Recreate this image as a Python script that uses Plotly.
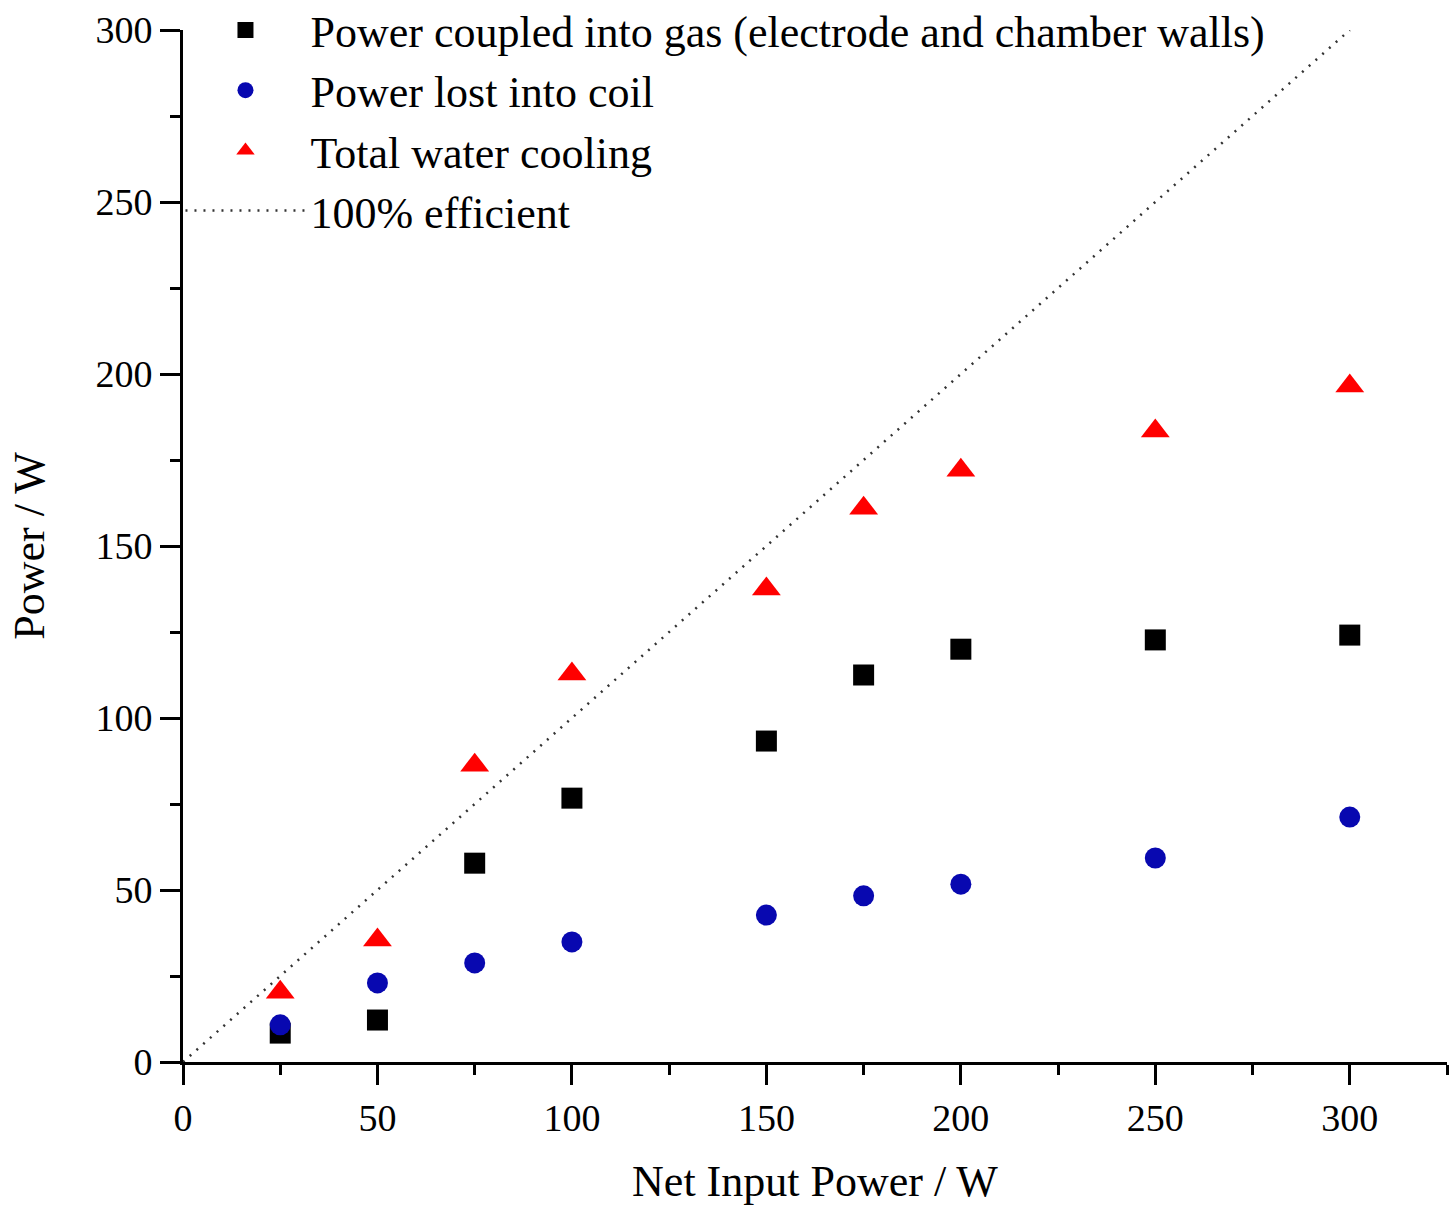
import plotly.graph_objects as go

x_vals = [25, 50, 75, 100, 150, 175, 200, 250, 300]
gas_power = [8.4, 12.2, 57.8, 76.7, 93.3, 112.5, 120.0, 122.7, 124.1]
coil_power = [10.8, 23.0, 28.8, 34.9, 42.7, 48.3, 51.7, 59.3, 71.2]
water_cooling = [20.3, 35.5, 86.3, 112.8, 137.5, 161.0, 172.0, 183.4, 196.5]
ideal_x = [0, 300]
ideal_y = [0, 300]

FONT = "Liberation Serif, Times New Roman, serif"

fig = go.Figure()
fig.add_trace(go.Scatter(x=x_vals, y=gas_power, mode="markers",
                         name="Power coupled into gas (electrode and chamber walls)",
                         marker=dict(symbol="square", size=21, color="black"), legendgroup="a"))
fig.add_trace(go.Scatter(x=x_vals, y=coil_power, mode="markers",
                         name="Power lost into coil",
                         marker=dict(symbol="circle", size=21, color="#0808b0"), legendgroup="b"))
fig.add_trace(go.Scatter(x=x_vals, y=water_cooling, mode="markers",
                         name="Total water cooling",
                         marker=dict(symbol="triangle-up", size=25, color="#ff0000"), legendgroup="c"))
fig.add_trace(go.Scatter(x=ideal_x, y=ideal_y, mode="lines",
                         name="100% efficient",
                         line=dict(color="#333", width=2.5, dash="2px,7px"), legendgroup="d"))

fig.update_layout(
    width=1453, height=1207,
    margin=dict(l=183, r=6, t=30, b=145, autoexpand=False),
    plot_bgcolor="white", paper_bgcolor="white",
    font=dict(family=FONT, size=38, color="black"),
    showlegend=True,
    legend=dict(x=-0.002, y=1.034, xanchor="left", yanchor="top",
                bgcolor="rgba(0,0,0,0)", font=dict(size=44, family=FONT),
                tracegroupgap=0, itemwidth=120),
    xaxis=dict(range=[0, 325], tickvals=[0, 50, 100, 150, 200, 250, 300],
               showline=True, linecolor="black", linewidth=3,
               ticks="outside", ticklen=20, tickwidth=3, tickcolor="black",
               minor=dict(tickvals=[25, 75, 125, 175, 225, 275, 325], ticks="outside",
                          ticklen=10, tickwidth=3, tickcolor="black"),
               showgrid=False, zeroline=False,
               tickfont=dict(size=38),
               title=dict(text="Net Input Power / W", font=dict(size=44), standoff=28)),
    yaxis=dict(range=[0, 300], tickvals=[0, 50, 100, 150, 200, 250, 300],
               showline=True, linecolor="black", linewidth=3,
               ticks="outside", ticklen=20, tickwidth=3, tickcolor="black",
               minor=dict(tickvals=[25, 75, 125, 175, 225, 275], ticks="outside",
                          ticklen=10, tickwidth=3, tickcolor="black"),
               showgrid=False, zeroline=False,
               tickfont=dict(size=38),
               title=dict(text="Power / W", font=dict(size=44), standoff=38)),
)

fig.write_html("out.html")
